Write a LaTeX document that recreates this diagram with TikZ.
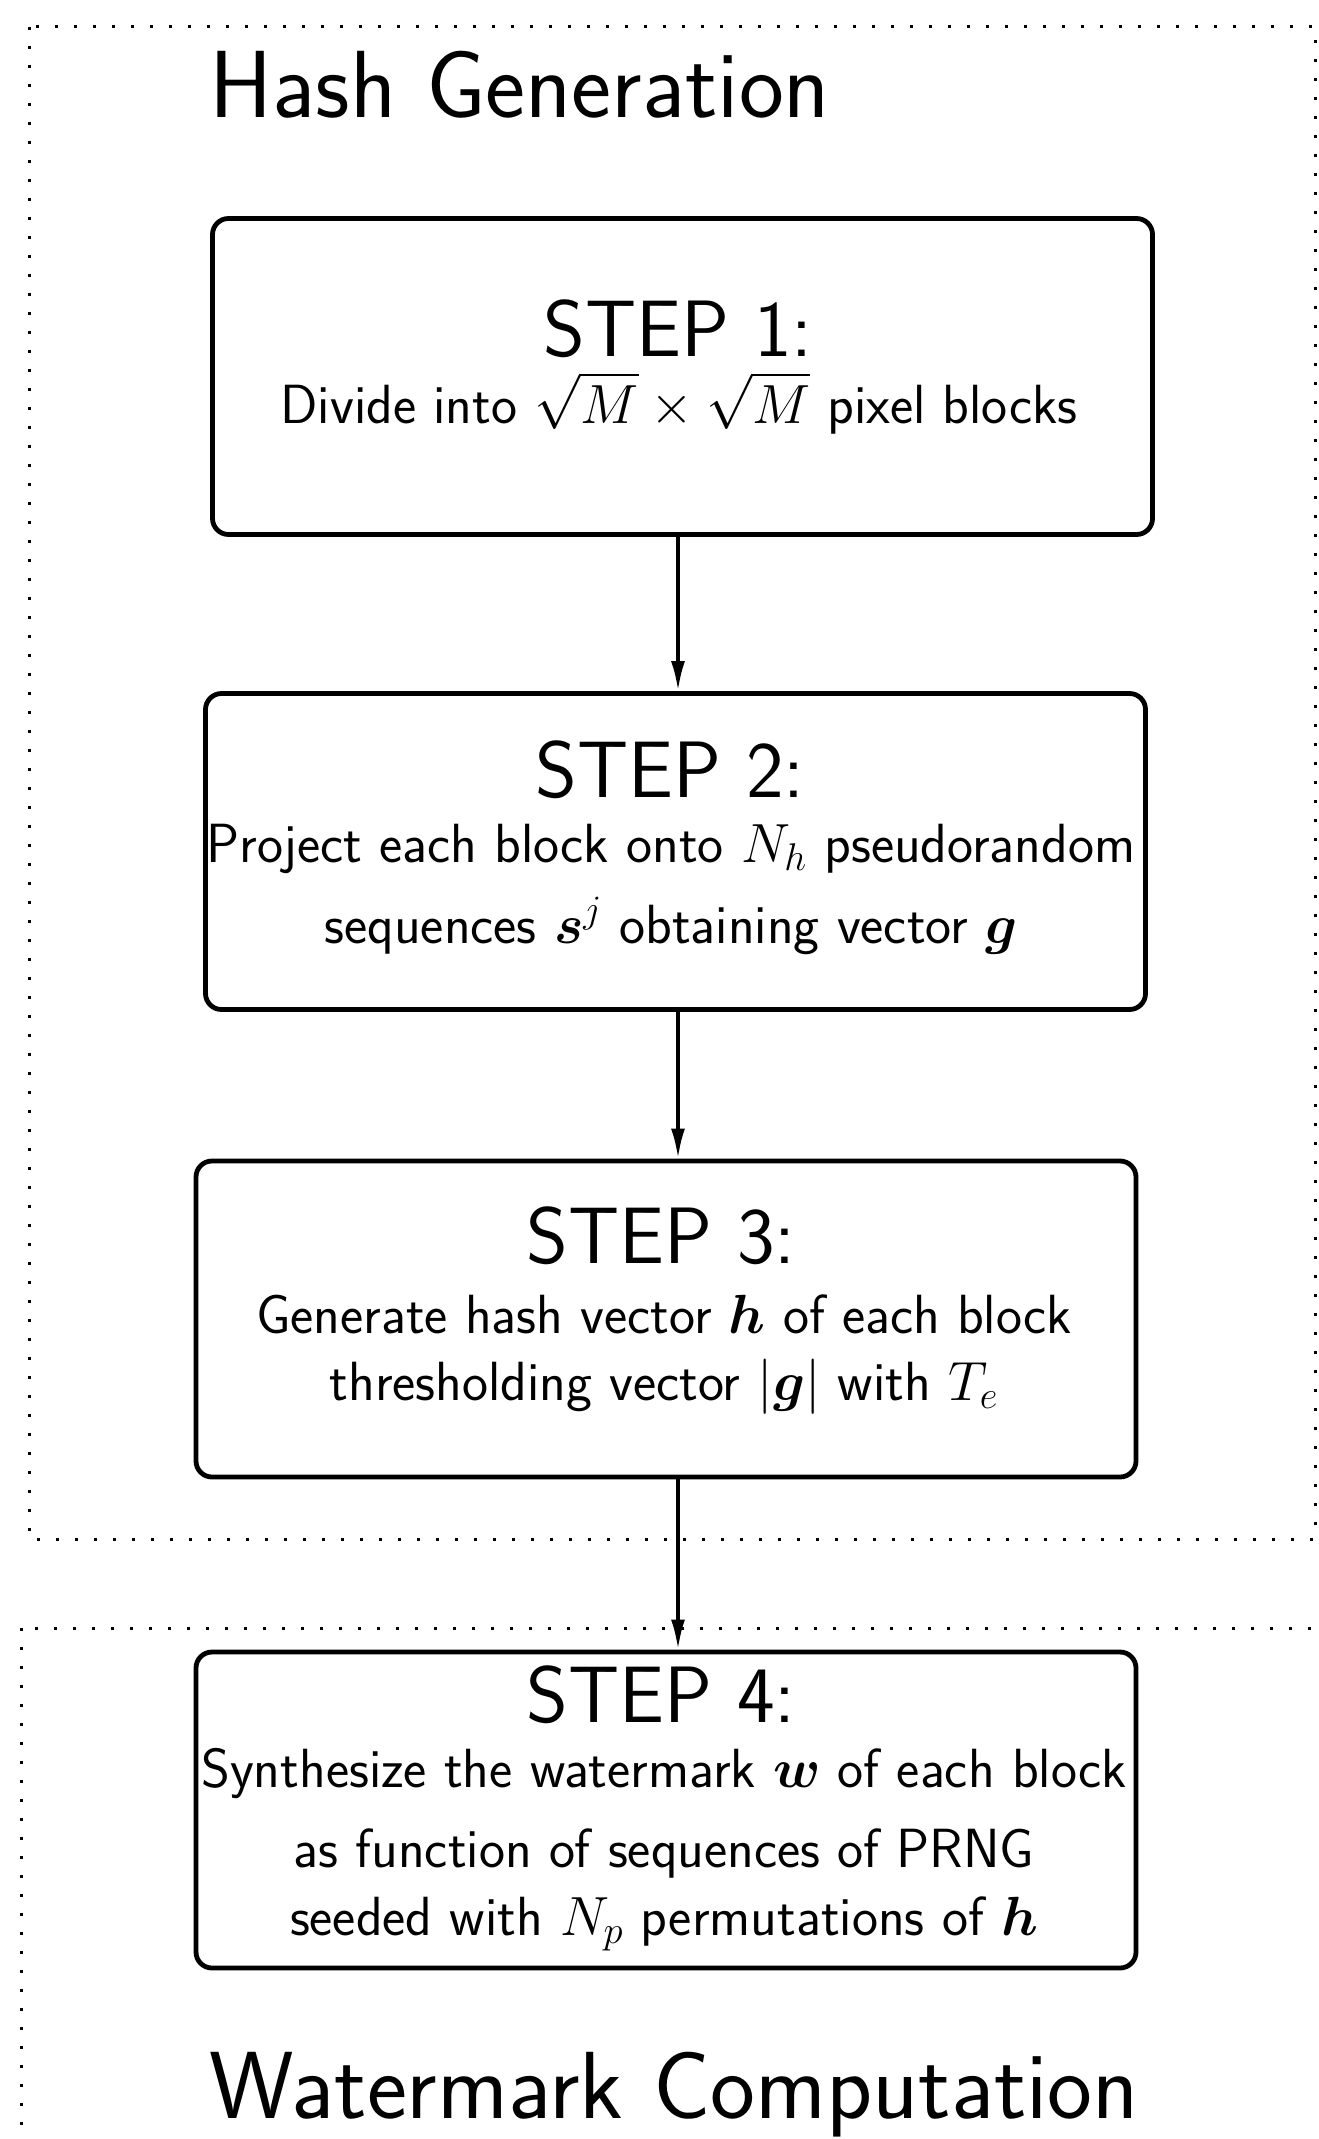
\RequirePackage{fix-cm}
\documentclass[tikz,border=0pt]{standalone}
\usepackage{amsmath,bm}
\usepackage{fontspec}
\usetikzlibrary{arrows.meta}
\tikzset{
  dotbox/.style={line width=1.5pt, dash pattern=on 1.5pt off 8pt},
  stepbox/.style={draw, line width=2.4pt, rounded corners=8pt, minimum width=470pt, minimum height=158pt, inner sep=0pt},
  steplab/.style={font=\sffamily\fontsize{40}{46}\selectfont, anchor=base, inner sep=0pt},
  bodytxt/.style={font=\sffamily\fontsize{27.6}{32}\selectfont, anchor=base, inner sep=0pt},
  grptitle/.style={font=\sffamily\fontsize{47.7}{54}\selectfont, anchor=base west, inner sep=0pt},
  arr/.style={line width=1.8pt, -{Latex[length=15pt,width=7pt]}}
}
\begin{document}
\begin{tikzpicture}[x=0.5pt,y=-0.5pt]
\useasboundingbox (0,0) rectangle (1318,2139);
\clip (0,0) rectangle (1318,2139);
% group frames
\draw[dotbox] (29,27) rectangle (1315,1539);
\draw[dotbox] (21,1628) rectangle (1400,2300);
\node[grptitle] (t1) at (209,118) {Hash Generation};
\node[grptitle] (t2) at (209,2118) {Watermark Computation};
% boxes
\node[stepbox] (b1) at (682.5,376.5) {};
\node[stepbox] (b2) at (675.5,851.5) {};
\node[stepbox] (b3) at (666,1319) {};
\node[stepbox] (b4) at (666,1810) {};
% texts
\node[steplab] (s1) at (678,357) {STEP 1:};
\node[bodytxt] (s1a) at (679,423) {Divide into $\sqrt{M}\times\sqrt{M}$ pixel blocks};
\node[steplab] (s2) at (670,797) {STEP 2:};
\node[bodytxt] (s2a) at (671,862) {Project each block onto $N_h$ pseudorandom};
\node[bodytxt] (s2b) at (671,943) {sequences $\bm{s}^j$ obtaining vector $\bm{g}$};
\node[steplab] (s3) at (661,1263) {STEP 3:};
\node[bodytxt] (s3a) at (664,1333) {Generate hash vector $\bm{h}$ of each block};
\node[bodytxt] (s3b) at (664,1400) {thresholding vector $|\bm{g}|$ with $T_e$};
\node[steplab] (s4) at (661,1722) {STEP 4:};
\node[bodytxt] (s4a) at (664,1787) {Synthesize the watermark $\bm{w}$ of each block};
\node[bodytxt] (s4b) at (664,1867) {as function of sequences of PRNG};
\node[bodytxt] (s4c) at (664,1935) {seeded with $N_p$ permutations of $\bm{h}$};
% connectors
\coordinate (ax) at (678,0);
\draw[arr] (b1.south -| ax) -- (b2.north -| ax);
\draw[arr] (b2.south -| ax) -- (b3.north -| ax);
\draw[arr] (b3.south -| ax) -- (b4.north -| ax);
\end{tikzpicture}
\end{document}
